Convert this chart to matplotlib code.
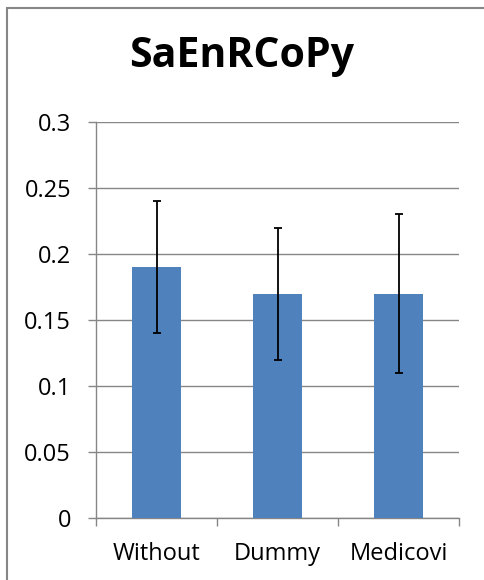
import matplotlib
matplotlib.use("Agg")
import matplotlib.pyplot as plt
from matplotlib.patches import Rectangle
import numpy as np

categories = ["Without", "Dummy", "Medicovi"]
values = [0.19, 0.17, 0.17]
err_low = [0.05, 0.05, 0.06]
err_high = [0.05, 0.05, 0.06]
yticks = [0, 0.05, 0.1, 0.15, 0.2, 0.25, 0.3]
ytick_labels = ["0", "0.05", "0.1", "0.15", "0.2", "0.25", "0.3"]
title = "SaEnRCoPy"

plt.rcParams['font.family'] = ['Open Sans', 'DejaVu Sans']

fig = plt.figure(figsize=(4.84, 5.8), dpi=100)
ax = fig.add_axes([96/484, 1-518/580, (459-96)/484, (518-122)/580])

x = np.arange(len(categories))
ax.bar(x, values, width=0.4, color="#4F81BD", zorder=3)
ax.errorbar(x, values, yerr=[err_low, err_high], fmt="none", ecolor="black",
            elinewidth=1.3, capsize=3, capthick=1.3, zorder=4)

ax.set_xlim(-0.5, len(categories) - 0.5)
ax.set_ylim(0, 0.3)
ax.set_yticks(yticks)
ax.set_yticklabels(ytick_labels, fontsize=17)
ax.yaxis.grid(True, color="#868686", linewidth=1.0, zorder=0)
ax.set_axisbelow(True)

ax.set_xticks(x)
ax.set_xticklabels(categories, fontsize=17)
ax.tick_params(axis="x", length=0, pad=17.5)
ax.set_xticks(np.arange(-0.5, len(categories)), minor=True)
ax.tick_params(axis="x", which="minor", length=6, width=1, color="#868686", direction="out")
ax.tick_params(axis="y", length=6, width=1, color="#868686", direction="out", pad=12)

for s in ["top", "right"]:
    ax.spines[s].set_visible(False)
for s in ["left", "bottom"]:
    ax.spines[s].set_color("#868686")
    ax.spines[s].set_linewidth(1.0)

fig.text(0.5, 1-67/580, title, ha="center", va="baseline", fontsize=29.5, fontweight="bold")

fig.patches.append(Rectangle((6.5/484, -0.1), 1.2, 1.1 - 7.5/580, transform=fig.transFigure,
                             fill=False, edgecolor="#868686", linewidth=1.5))

fig.savefig("out.png", dpi=100)
